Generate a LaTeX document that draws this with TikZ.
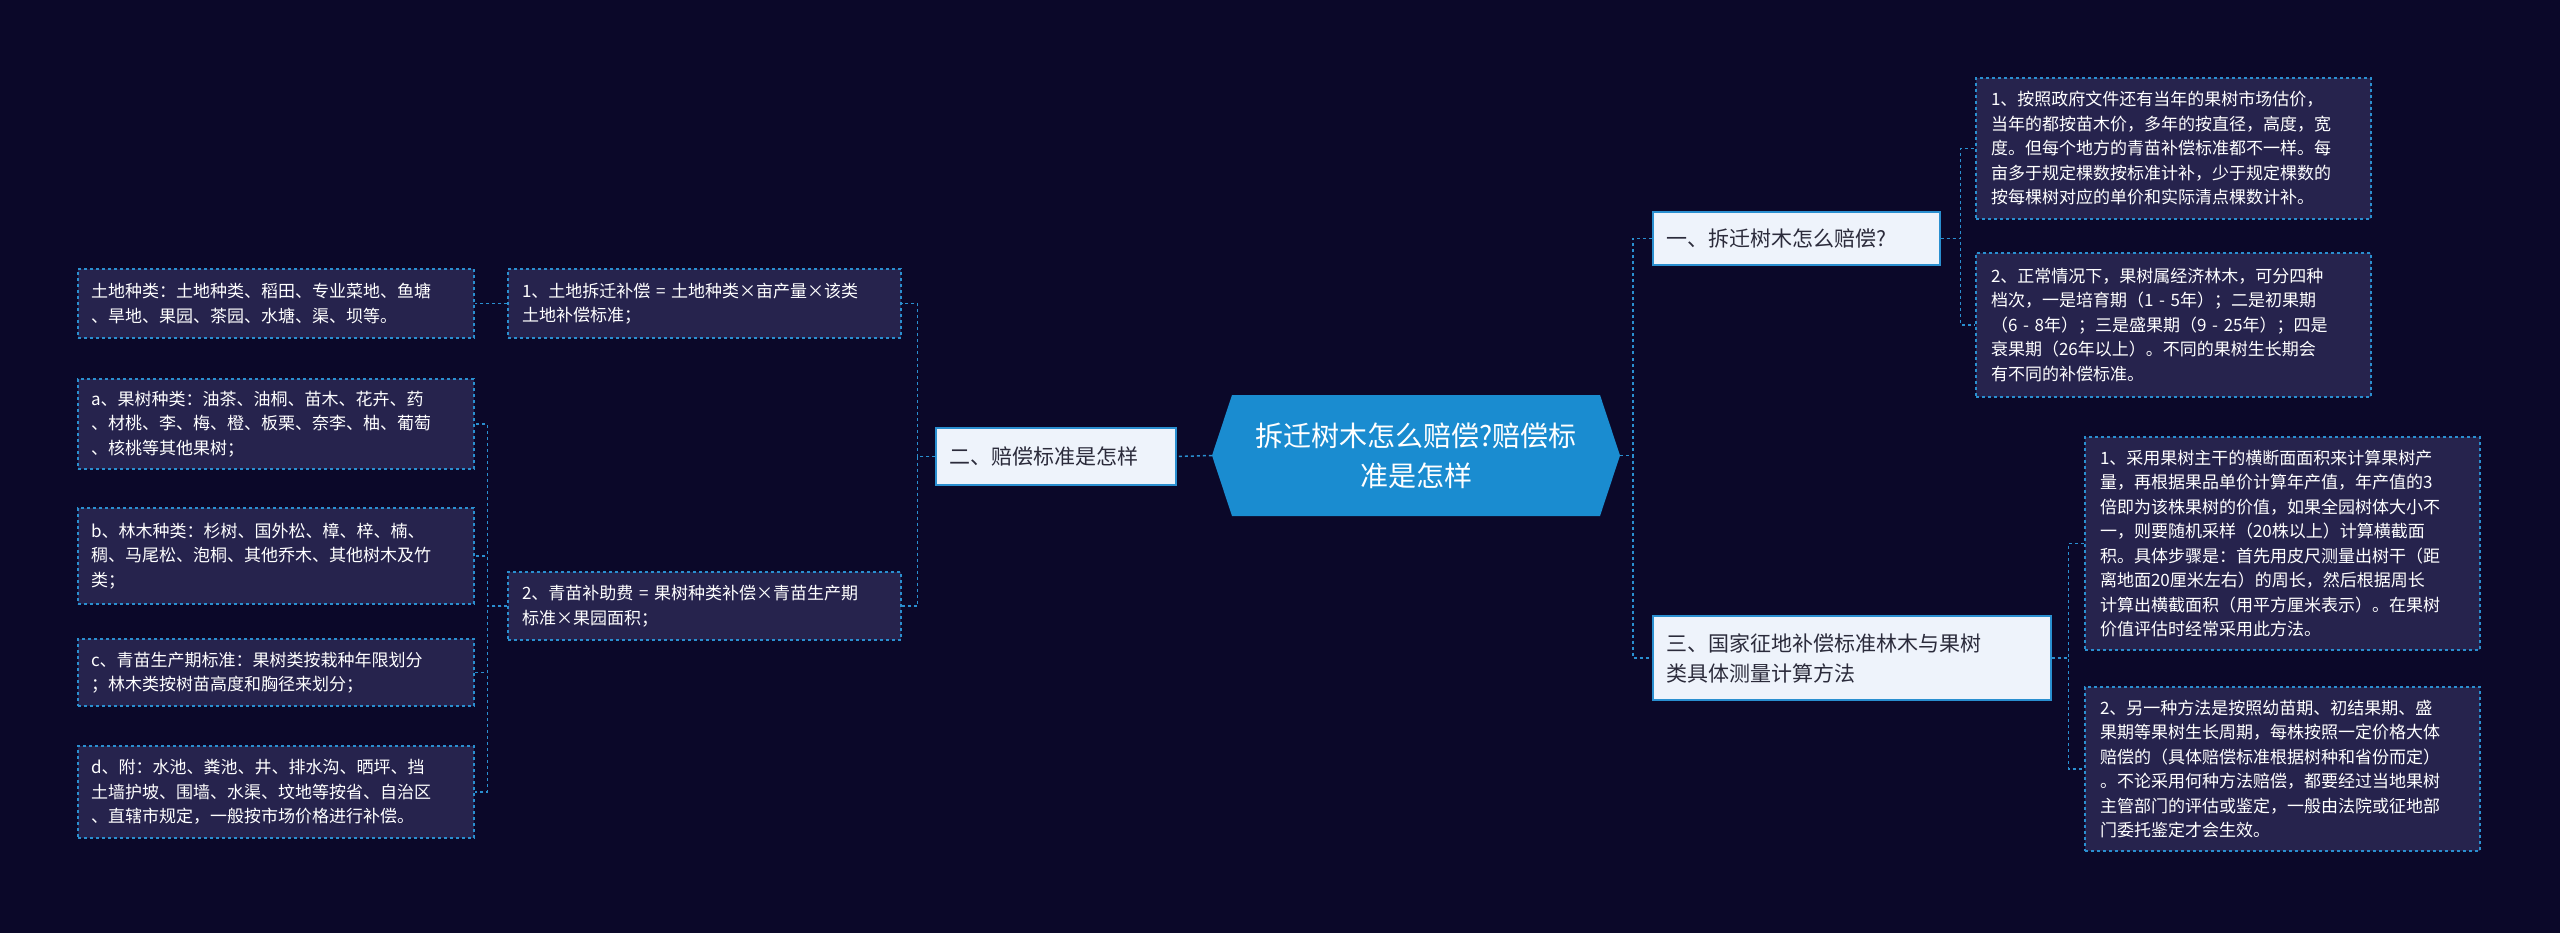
\documentclass[tikz,border=0pt]{standalone}
\usepackage{fontspec}
\newfontfamily\cjk{Noto Sans CJK SC}
\definecolor{bg}{HTML}{0B0829}
\definecolor{ln}{HTML}{2A8FD0}
\definecolor{lf}{HTML}{26234D}
\definecolor{ctr}{HTML}{1A8CD0}
\definecolor{mid}{HTML}{EEF3FB}
\definecolor{midt}{HTML}{2B2B3B}
\begin{document}
\begin{tikzpicture}[x=1pt,y=-1pt,
 leaf/.style={draw=ln,dashed,line width=1.5pt,fill=lf,text=white,font=\cjk\fontsize{17}{24.5}\selectfont,align=left,inner sep=0pt,text width=#1},
 mid/.style={draw=ln,line width=1.2pt,fill=mid,text=midt,font=\cjk\fontsize{21}{30}\selectfont,align=left,inner sep=0pt},
 con/.style={draw=ln,dashed,line width=1.5pt}]
\fill[bg] (0,0) rectangle (2560,933);
% center
\node[minimum width=408pt,minimum height=121pt,inner sep=0pt] (c) at (1416,455.5) {};
\fill[ctr] (1212,455.5) -- (1232,395) -- (1600,395) -- (1620,455.5) -- (1600,516) -- (1232,516) -- cycle;
\node[text=white,font=\cjk\fontsize{28}{40}\selectfont,align=center] at (c) {拆迁树木怎么赔偿?赔偿标\\准是怎样};
% mid nodes
\node[mid,minimum width=287pt,minimum height=53pt,text width=260pt] (n1) at (1796.5,238.5) {一、拆迁树木怎么赔偿?};
\node[mid,minimum width=398pt,minimum height=84pt,text width=372pt] (n3) at (1852,658) {三、国家征地补偿标准林木与果树\\类具体测量计算方法};
\node[mid,minimum width=240pt,minimum height=57pt,text width=214pt] (n2) at (1056,456.5) {二、赔偿标准是怎样};
% right leaves
\node[leaf=365pt,minimum width=395pt,minimum height=141pt] (r1) at (2173.5,148.5) {1、按照政府文件还有当年的果树市场估价，\\当年的都按苗木价，多年的按直径，高度，宽\\度。但每个地方的青苗补偿标准都不一样。每\\亩多于规定棵数按标准计补，少于规定棵数的\\按每棵树对应的单价和实际清点棵数计补。};
\node[leaf=365pt,minimum width=395pt,minimum height=144pt] (r2) at (2173.5,325) {2、正常情况下，果树属经济林木，可分四种\\档次，一是培育期（1 - 5年）；二是初果期\\（6 - 8年）；三是盛果期（9 - 25年）；四是\\衰果期（26年以上）。不同的果树生长期会\\有不同的补偿标准。};
\node[leaf=365pt,minimum width=395pt,minimum height=213pt] (r3) at (2282.5,543.5) {1、采用果树主干的横断面面积来计算果树产\\量，再根据果品单价计算年产值，年产值的3\\倍即为该株果树的价值，如果全园树体大小不\\一，则要随机采样（20株以上）计算横截面\\积。具体步骤是：首先用皮尺测量出树干（距\\离地面20厘米左右）的周长，然后根据周长\\计算出横截面积（用平方厘米表示）。在果树\\价值评估时经常采用此方法。};
\node[leaf=365pt,minimum width=395pt,minimum height=164pt] (r4) at (2282.5,769) {2、另一种方法是按照幼苗期、初结果期、盛\\果期等果树生长周期，每株按照一定价格大体\\赔偿的（具体赔偿标准根据树种和省份而定）\\。不论采用何种方法赔偿，都要经过当地果树\\主管部门的评估或鉴定，一般由法院或征地部\\门委托鉴定才会生效。};
% left side
\node[leaf=365pt,minimum width=393pt,minimum height=69pt] (l1) at (704.5,303.5) {1、土地拆迁补偿 = 土地种类×亩产量×该类\\土地补偿标准；};
\node[leaf=365pt,minimum width=393pt,minimum height=68pt] (l2) at (704.5,606) {2、青苗补助费 = 果树种类补偿×青苗生产期\\标准×果园面积；};
\node[leaf=370pt,minimum width=396pt,minimum height=69pt] (a0) at (276,303.5) {土地种类：土地种类、稻田、专业菜地、鱼塘\\、旱地、果园、茶园、水塘、渠、坝等。};
\node[leaf=370pt,minimum width=396pt,minimum height=90pt] (a1) at (276,424) {a、果树种类：油茶、油桐、苗木、花卉、药\\、材桃、李、梅、橙、板栗、奈李、柚、葡萄\\、核桃等其他果树；};
\node[leaf=370pt,minimum width=396pt,minimum height=96pt] (a2) at (276,556) {b、林木种类：杉树、国外松、樟、梓、楠、\\稠、马尾松、泡桐、其他乔木、其他树木及竹\\类；};
\node[leaf=370pt,minimum width=396pt,minimum height=67pt] (a3) at (276,672.5) {c、青苗生产期标准：果树类按栽种年限划分\\；林木类按树苗高度和胸径来划分；};
\node[leaf=370pt,minimum width=396pt,minimum height=92pt] (a4) at (276,792) {d、附：水池、粪池、井、排水沟、晒坪、挡\\土墙护坡、围墙、水渠、坟地等按省、自治区\\、直辖市规定，一般按市场价格进行补偿。};
% connectors
\draw[con] (c.east) -- ++(13,0) |- (n1.west);
\draw[con] (c.east) -- ++(13,0) |- (n3.west);
\draw[con] (n1.east) -- ++(20,0) |- (r1.west);
\draw[con] (n1.east) -- ++(20,0) |- (r2.west);
\draw[con] (n3.east) -- ++(17,0) |- (r3.west);
\draw[con] (n3.east) -- ++(17,0) |- (r4.west);
\draw[con] (c.west) -- (n2.east);
\draw[con] (n2.west) -- ++(-18,0) |- (l1.east);
\draw[con] (n2.west) -- ++(-18,0) |- (l2.east);
\draw[con] (l1.west) -- (a0.east);
\draw[con] (l2.west) -- ++(-20,0) |- (a1.east);
\draw[con] (l2.west) -- ++(-20,0) |- (a2.east);
\draw[con] (l2.west) -- ++(-20,0) |- (a3.east);
\draw[con] (l2.west) -- ++(-20,0) |- (a4.east);
\end{tikzpicture}
\end{document}
